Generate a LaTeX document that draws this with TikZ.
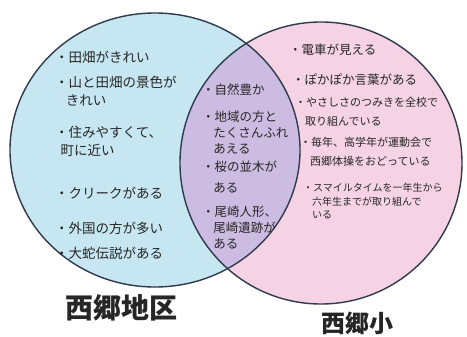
\documentclass[tikz,border=0pt]{standalone}
\usepackage{fontspec}
\newfontfamily\jp{Noto Sans CJK JP}
\usepackage{tikz}
\definecolor{areablue}{HTML}{C6E6F1}
\definecolor{schoolpink}{HTML}{F6D3E4}
\definecolor{bothviolet}{HTML}{CDBCE2}
\definecolor{penline}{HTML}{2F3A4C}

\begin{document}
\begin{tikzpicture}[
  x=1pt, y=-1pt,
  ring/.style={draw=penline, line width=1.4pt},
  item/.style={anchor=north west, align=left, inner sep=0pt, text=black!85},
  big/.style={item, font=\jp\fontsize{13.5}{18}\selectfont},
  mid/.style={item, font=\jp\fontsize{12.5}{16}\selectfont},
  small/.style={item, font=\jp\fontsize{11}{19}\selectfont},
  tiny/.style={item, font=\jp\fontsize{10}{13.5}\selectfont},
  title/.style={anchor=center, inner sep=0pt, text=black!85}
]
  \useasboundingbox (0,0) rectangle (467,337);
  \fill[white] (0,0) rectangle (467,337);

  % circles
  \fill[areablue] (155,150) ellipse [x radius=145pt, y radius=137pt];
  \fill[schoolpink] (321,163) circle [radius=141pt];
  \begin{scope}
    \clip (155,150) ellipse [x radius=145pt, y radius=137pt];
    \fill[bothviolet] (321,163) circle [radius=141pt];
  \end{scope}
  \draw[ring] (155,150) ellipse [x radius=145pt, y radius=137pt];
  \draw[ring] (321,163) circle [radius=141pt];

  % left circle items
  \node[big] (l1) at (55,51) {・田畑がきれい};
  \node[big] (l2) at (55,76) {・山と田畑の景色が\\\mbox{}\hspace{0.8em}きれい};
  \node[big] (l3) at (55,126) {・住みやすくて、\\\mbox{}\hspace{0.4em}町に近い};
  \node[big] (l4) at (55,187) {・クリークがある};
  \node[big] (l5) at (55,222) {・外国の方が多い};
  \node[big] (l6) at (55,247) {・大蛇伝説がある};

  % middle items
  \node[mid] (m1) at (202,84) {・自然豊か};
  \node[mid] (m2) at (202,111) {・地域の方と\\\mbox{}\hspace{0.9em}たくさんふれ\\\mbox{}\hspace{0.9em}あえる};
  \node[mid] (m3) at (202,161) {・桜の並木が\\[5pt]\mbox{}\hspace{0.9em}ある};
  \node[mid] (m4) at (202,206) {・尾崎人形、\\\mbox{}\hspace{0.9em}尾崎遺跡が\\\mbox{}\hspace{0.9em}ある};

  % right circle items
  \node[mid] (r1) at (289,44) {・電車が見える};
  \node[mid] (r2) at (292,74) {・ぽかぽか言葉がある};
  \node[small] (r3) at (295,97) {・やさしさのつみきを全校で\\\mbox{}\hspace{0.9em}取り組んでいる};
  \node[small] (r4) at (300,137) {・毎年、高学年が運動会で\\\mbox{}\hspace{0.9em}西郷体操をおどっている};
  \node[tiny] (r5) at (303,183) {・スマイルタイムを一年生から\\\mbox{}\hspace{0.9em}六年生までが取り組んで\\\mbox{}\hspace{0.9em}いる};

  % circle names
  \node[title, font=\jp\bfseries\fontsize{28}{30}\selectfont] (area) at (122,308) {西郷地区};
  \node[title, font=\jp\bfseries\fontsize{24}{26}\selectfont] (school) at (357,323) {西郷小};

\end{tikzpicture}
\end{document}
